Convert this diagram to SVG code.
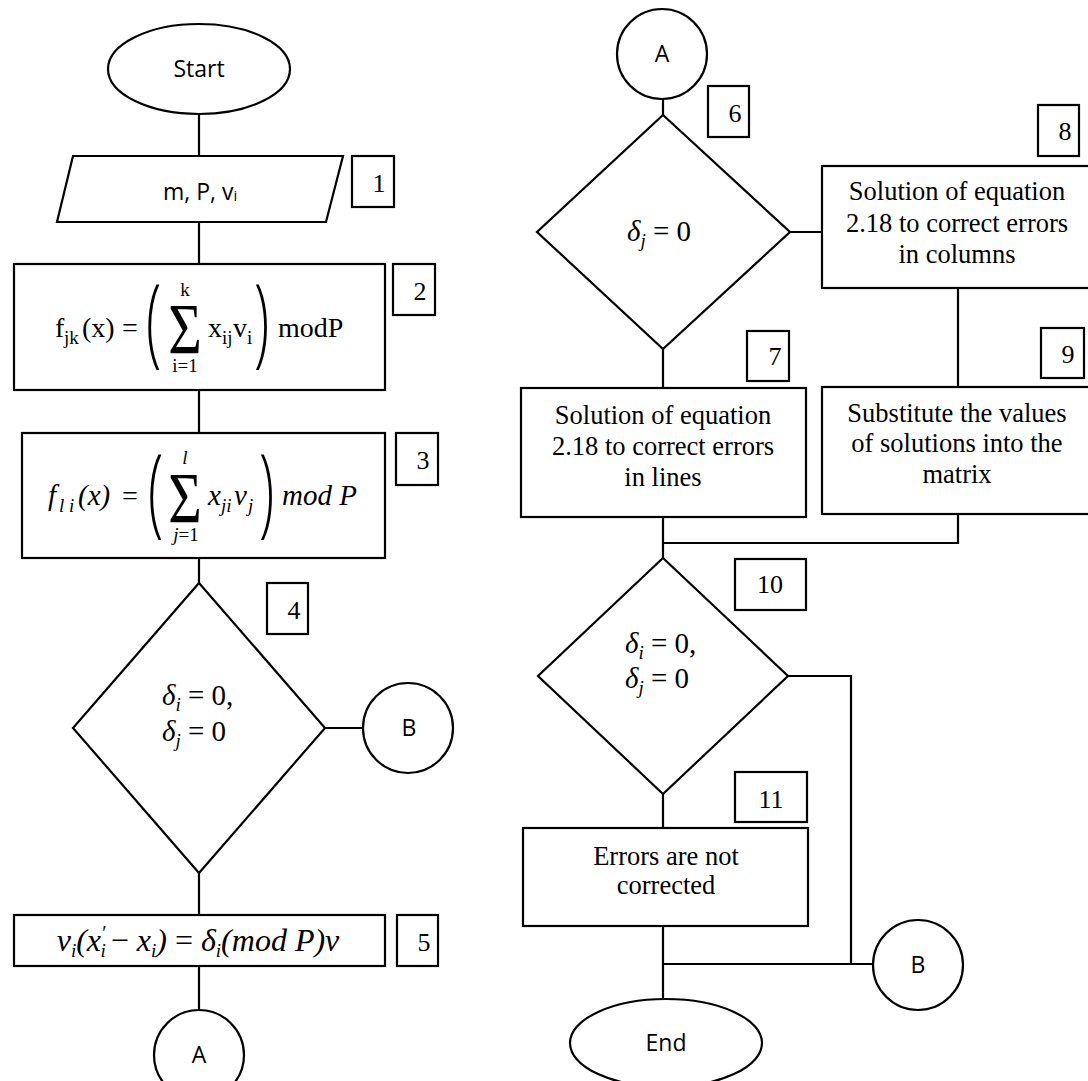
<svg xmlns="http://www.w3.org/2000/svg" width="1088" height="1081" viewBox="0 0 1088 1081">
<style>
.s{fill:#fff;stroke:#000;stroke-width:2.2}
.c{fill:none;stroke:#000;stroke-width:2.2}
.sans{font-family:"Open Sans","Noto Sans",sans-serif;font-size:23px;fill:#000}
.rm{font-family:"Liberation Serif","Times New Roman",serif;font-size:26.5px;fill:#000}
.num{font-family:"Liberation Serif","Times New Roman",serif;font-size:26px;fill:#000}
.m{font-family:"Liberation Serif","Times New Roman",serif;font-size:28px;fill:#000}
.mi{font-family:"Liberation Serif","Times New Roman",serif;font-size:29px;font-style:italic;fill:#000}
.sub{font-size:19px}
.up{font-style:normal}
.par{font-family:"Open Sans","Noto Sans",sans-serif;font-weight:300;font-size:40px;fill:#000}
.sig{font-family:"Liberation Serif","Times New Roman",serif;font-size:72px;fill:#000}
</style>
<rect width="1088" height="1081" fill="#fff"/>
<g id="connectors">
<path class="c" d="M199 114V156M199 222V264M199 390V433M199 558V583M325 728H363M199 873V915M199 966V1010"/>
<path class="c" d="M663 99V115M790 232H822M958 288V387M663 349V388M663 517V558M958 514V543H663M788 676H851V964M851 964H873M663 794V828M663 926V999M663 964H851"/>
</g>
<g id="start"><ellipse class="s" cx="199" cy="69" rx="91" ry="45"/><text class="sans" x="199" y="77" text-anchor="middle">Start</text></g>
<g id="n1"><polygon class="s" points="73,156 343,156 326,222 57,222"/><text class="sans" x="163" y="200">m, P, v<tspan style="font-size:15px" dy="1">i</tspan></text></g>
<g id="l1"><rect class="s" x="352" y="156" width="42" height="51"/><text class="num" x="379" y="192" text-anchor="middle">1</text></g>
<g id="n2"><rect class="s" x="14" y="264" width="371" height="126"/>
<text class="m" x="55" y="337">f</text><text class="m sub" x="64" y="344">jk</text>
<text class="m" x="82" y="337">(x)</text><text class="m" x="122" y="337">=</text>
<text class="par" transform="translate(146,355) scale(1.4,2.45)">(</text>
<text class="sig" text-anchor="middle" transform="translate(185,353) scale(0.8,1)">Σ</text>
<text class="m sub" x="185" y="296" text-anchor="middle">k</text>
<text class="m sub" x="185" y="372" text-anchor="middle">i=1</text>
<text class="m" x="208" y="337">x</text><text class="m sub" x="222" y="344">ij</text>
<text class="m" x="233" y="337">v</text><text class="m sub" x="247" y="344">i</text>
<text class="par" transform="translate(254,355) scale(1.4,2.45)">)</text>
<text class="m" x="278" y="337">modP</text>
</g>
<g id="l2"><rect class="s" x="393" y="264" width="42" height="51"/><text class="num" x="420" y="300" text-anchor="middle">2</text></g>
<g id="n3"><rect class="s" x="22" y="433" width="363" height="125"/>
<text class="mi" x="48" y="505">f</text><text class="mi sub" x="59" y="512">l i</text>
<text class="mi" x="78" y="505">(x)</text><text class="m" x="122" y="505">=</text>
<text class="par" transform="translate(148,525) scale(1.4,2.45)">(</text>
<text class="sig" text-anchor="middle" transform="translate(185,522) scale(0.8,1)">Σ</text>
<text class="mi sub" x="185" y="464" text-anchor="middle">l</text>
<text class="mi sub" x="186" y="541" text-anchor="middle">j<tspan class="up">=1</tspan></text>
<text class="mi" x="208" y="505">x</text><text class="mi sub" x="221" y="512">ji</text>
<text class="mi" x="234" y="505">v</text><text class="mi sub" x="248" y="512">j</text>
<text class="par" transform="translate(259,525) scale(1.4,2.45)">)</text>
<text class="mi" x="282" y="505">mod P</text>
</g>
<g id="l3"><rect class="s" x="396" y="433" width="42" height="52"/><text class="num" x="423" y="469" text-anchor="middle">3</text></g>
<g id="n4"><polygon class="s" points="199,583 325,728 199,873 73,728"/>
<text class="mi" x="162" y="705">δ<tspan class="sub" dy="6">i</tspan><tspan class="up" dy="-6"> = 0,</tspan></text>
<text class="mi" x="162" y="741">δ<tspan class="sub" dy="6">j</tspan><tspan class="up" dy="-6"> = 0</tspan></text>
</g>
<g id="l4"><rect class="s" x="267" y="583" width="41" height="51"/><text class="num" x="294" y="619" text-anchor="middle">4</text></g>
<g id="bL"><circle class="s" cx="408" cy="728" r="45"/><text class="sans" x="409" y="736" text-anchor="middle">B</text></g>
<g id="n5"><rect class="s" x="14" y="915" width="371" height="51"/>
<text class="mi" x="198" y="951" text-anchor="middle" style="font-size:32px">v<tspan class="sub" dy="6">i</tspan><tspan dy="-6">(x</tspan><tspan style="font-size:20px" dy="-11">′</tspan><tspan class="sub" dx="-5" dy="17">i</tspan><tspan class="up" dx="5" dy="-6">−</tspan><tspan dx="8">x</tspan><tspan class="sub" dy="6">i</tspan><tspan dy="-6">)</tspan><tspan class="up" dx="8">=</tspan><tspan dx="8">δ</tspan><tspan class="sub" dy="6">i</tspan><tspan dy="-6">(mod P)v</tspan></text>
</g>
<g id="l5"><rect class="s" x="397" y="915" width="41" height="51"/><text class="num" x="424" y="951" text-anchor="middle">5</text></g>
<g id="aL"><circle class="s" cx="199" cy="1055" r="45"/><text class="sans" x="199" y="1063" text-anchor="middle">A</text></g>
<g id="aR"><circle class="s" cx="662" cy="54" r="45"/><text class="sans" x="662" y="62" text-anchor="middle">A</text></g>
<g id="n6"><polygon class="s" points="663,115 790,232 663,349 537,232"/>
<text class="mi" x="627" y="241">δ<tspan class="sub" dy="6">j</tspan><tspan class="up" dy="-6"> = 0</tspan></text>
</g>
<g id="l6"><rect class="s" x="708" y="86" width="41" height="51"/><text class="num" x="735" y="122" text-anchor="middle">6</text></g>
<g id="n8"><rect class="s" x="822" y="166" width="276" height="122"/>
<text class="rm" x="957" y="200" text-anchor="middle">Solution of equation</text>
<text class="rm" x="957" y="232" text-anchor="middle">2.18 to correct errors</text>
<text class="rm" x="957" y="263" text-anchor="middle">in columns</text>
</g>
<g id="l8"><rect class="s" x="1038" y="105" width="41" height="51"/><text class="num" x="1065" y="140" text-anchor="middle">8</text></g>
<g id="n7"><rect class="s" x="521" y="388" width="285" height="129"/>
<text class="rm" x="663" y="424" text-anchor="middle">Solution of equation</text>
<text class="rm" x="663" y="455" text-anchor="middle">2.18 to correct errors</text>
<text class="rm" x="663" y="486" text-anchor="middle">in lines</text>
</g>
<g id="l7"><rect class="s" x="747" y="331" width="42" height="50"/><text class="num" x="775" y="365" text-anchor="middle">7</text></g>
<g id="n9"><rect class="s" x="822" y="387" width="276" height="127"/>
<text class="rm" x="957" y="422" text-anchor="middle">Substitute the values</text>
<text class="rm" x="957" y="452" text-anchor="middle">of solutions into the</text>
<text class="rm" x="957" y="483" text-anchor="middle">matrix</text>
</g>
<g id="l9"><rect class="s" x="1041" y="328" width="43" height="50"/><text class="num" x="1068" y="363" text-anchor="middle">9</text></g>
<g id="n10"><polygon class="s" points="663,558 788,676 663,794 538,676"/>
<text class="mi" x="625" y="653">δ<tspan class="sub" dy="6">i</tspan><tspan class="up" dy="-6"> = 0,</tspan></text>
<text class="mi" x="625" y="688">δ<tspan class="sub" dy="6">j</tspan><tspan class="up" dy="-6"> = 0</tspan></text>
</g>
<g id="l10"><rect class="s" x="735" y="559" width="71" height="51"/><text class="num" x="770" y="593" text-anchor="middle">10</text></g>
<g id="n11"><rect class="s" x="523" y="828" width="285" height="98"/>
<text class="rm" x="666" y="865" text-anchor="middle">Errors are not</text>
<text class="rm" x="666" y="894" text-anchor="middle">corrected</text>
</g>
<g id="l11"><rect class="s" x="735" y="772" width="72" height="50"/><text class="num" x="771" y="808" text-anchor="middle">11</text></g>
<g id="bR"><circle class="s" cx="918" cy="965" r="45"/><text class="sans" x="918" y="973" text-anchor="middle">B</text></g>
<g id="end"><ellipse class="s" cx="666" cy="1043" rx="96" ry="44"/><text class="sans" x="666" y="1051" text-anchor="middle">End</text></g>
</svg>
